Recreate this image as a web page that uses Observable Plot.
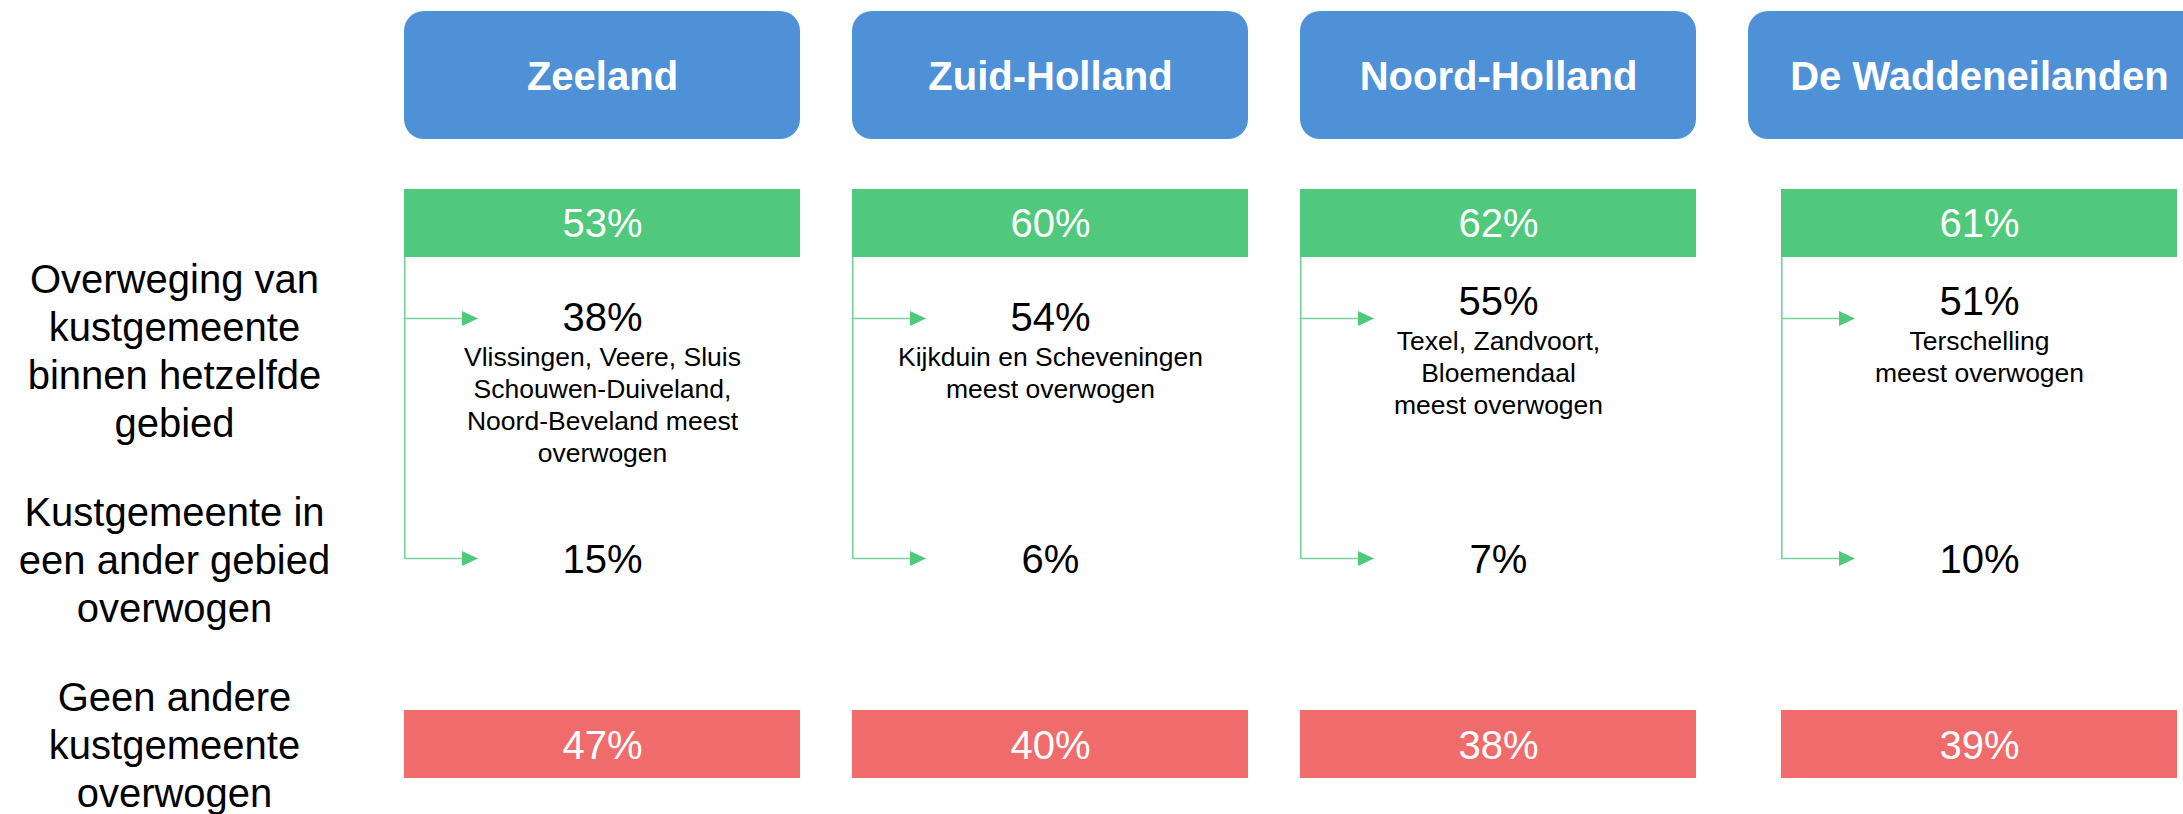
<!DOCTYPE html>
<html>
<head>
<meta charset="utf-8">
<script src="https://cdn.jsdelivr.net/npm/d3@7"></script>
<script src="https://cdn.jsdelivr.net/npm/@observablehq/plot@0.6"></script>
<style>
  html, body { margin: 0; padding: 0; background: #fff; overflow: hidden; }
  #chart svg { display: block; }
</style>
</head>
<body>
<div id="chart"></div>
<script>
// ---------- data ----------
const regions = ["Zeeland", "Zuid-Holland", "Noord-Holland", "De Waddeneilanden"];
const consideredPct = [53, 60, 62, 61];      // andere kustgemeente overwogen
const sameAreaPct = [38, 54, 55, 51];        // binnen hetzelfde gebied
const sameAreaNote = [
  ["Vlissingen, Veere, Sluis", "Schouwen-Duiveland,", "Noord-Beveland meest", "overwogen"],
  ["Kijkduin en Scheveningen", "meest overwogen"],
  ["Texel, Zandvoort,", "Bloemendaal", "meest overwogen"],
  ["Terschelling", "meest overwogen"]
];
const otherAreaPct = [15, 6, 7, 10];         // in een ander gebied
const notConsideredPct = [47, 40, 38, 39];   // geen andere kustgemeente
const rowLabels = [
  "Overweging van\nkustgemeente\nbinnen hetzelfde\ngebied",
  "Kustgemeente in\neen ander gebied\noverwogen",
  "Geen andere\nkustgemeente\noverwogen"
];

// ---------- styling / layout ----------
const W = 2183, H = 814;
const FONT = "Liberation Sans, Arial, Helvetica, sans-serif";
const BLUE = "#4F91D7", GREEN = "#50C97C", RED = "#F06C6C", LINK = "#74D497";
const xRange = [402, 2146], pad = 0.1158;
const step = (xRange[1] - xRange[0]) / (regions.length - pad);
const bw = step * (1 - pad), half = bw / 2;
const L = {
  header: [11, 139], headerText: 77,
  share: [189, 257], shareText: 224,
  within: 318, other: 558, otherText: 560,
  none: [710, 778], noneText: 746,
  noteOffset: 39.5, noteGap: 32,
  labelX: 174, labelY: [349, 558, 743]
};
const blockLift = {"Noord-Holland": -16, "De Waddeneilanden": -16};

const columns = regions.map((region, i) => ({
  region, considered: consideredPct[i], same: sameAreaPct[i],
  other: otherAreaPct[i], none: notConsideredPct[i]
}));
const noteLines = regions.flatMap((region, i) =>
  sameAreaNote[i].map((line, j) => ({region, line, j})));
const pct = v => `${v}%`;

const arrowHead = {
  draw(ctx) { ctx.moveTo(-8, -7.5); ctx.lineTo(8, 0); ctx.lineTo(-8, 7.5); ctx.closePath(); }
};

function groupMarks(names, shift, extraRight) {
  const cols = columns.filter(c => names.includes(c.region));
  const notes = noteLines.filter(d => names.includes(d.region));
  const links = cols.flatMap(c => [{region: c.region, y: L.within}, {region: c.region, y: L.other}]);
  const lift = d => blockLift[d.region] || 0;
  return [
    Plot.barY(cols, {x: "region", y1: () => L.header[0], y2: () => L.header[1],
      fill: BLUE, rx: 20, insetRight: -extraRight}),
    Plot.text(cols, {x: "region", y: () => L.headerText, text: "region", fill: "white",
      fontSize: 40, fontWeight: "bold", fontFamily: FONT, dx: shift}),
    Plot.barY(cols, {x: "region", y1: () => L.share[0], y2: () => L.share[1], fill: GREEN, dx: shift}),
    Plot.text(cols, {x: "region", y: () => L.shareText, text: d => pct(d.considered), fill: "white",
      fontSize: 40, fontFamily: FONT, dx: shift}),
    Plot.ruleX(cols, {x: "region", y1: () => L.share[1], y2: () => L.other + 0.8,
      stroke: LINK, strokeWidth: 1.6, dx: shift - half + 0.8}),
    Plot.tickY(links, {x: "region", y: "y", stroke: LINK, strokeWidth: 1.6,
      insetRight: bw - 60, dx: shift}),
    Plot.dot(links, {x: "region", y: "y", symbol: arrowHead, fill: GREEN, stroke: "none",
      dx: shift - half + 66}),
    Plot.text(cols, {x: "region", y: d => L.within + lift(d), text: d => pct(d.same),
      fill: "black", fontSize: 40, fontFamily: FONT, dx: shift}),
    Plot.text(notes, {x: "region", y: d => L.within + lift(d) + L.noteOffset + d.j * L.noteGap,
      text: "line", fill: "black", fontSize: 26.5, fontFamily: FONT, dx: shift}),
    Plot.text(cols, {x: "region", y: () => L.otherText, text: d => pct(d.other),
      fill: "black", fontSize: 40, fontFamily: FONT, dx: shift}),
    Plot.barY(cols, {x: "region", y1: () => L.none[0], y2: () => L.none[1], fill: RED, dx: shift}),
    Plot.text(cols, {x: "region", y: () => L.noneText, text: d => pct(d.none), fill: "white",
      fontSize: 40, fontFamily: FONT, dx: shift})
  ];
}

const chart = Plot.plot({
  width: W, height: H,
  margin: 0,
  style: {background: "white", overflow: "hidden"},
  x: {type: "band", domain: regions, range: xRange, paddingInner: pad, paddingOuter: 0, axis: null},
  y: {type: "linear", domain: [0, H], range: [0, H], axis: null},
  marks: [
    ...groupMarks(regions.slice(0, 3), 0, 0),
    ...groupMarks(regions.slice(3), 33, 66),
    Plot.text(rowLabels, {text: d => d, y: (d, i) => L.labelY[i], frameAnchor: "left",
      dx: L.labelX, textAnchor: "middle", lineHeight: 1.2, fontSize: 40, fontFamily: FONT, fill: "black"})
  ]
});
document.getElementById("chart").appendChild(chart);
</script>
</body>
</html>
